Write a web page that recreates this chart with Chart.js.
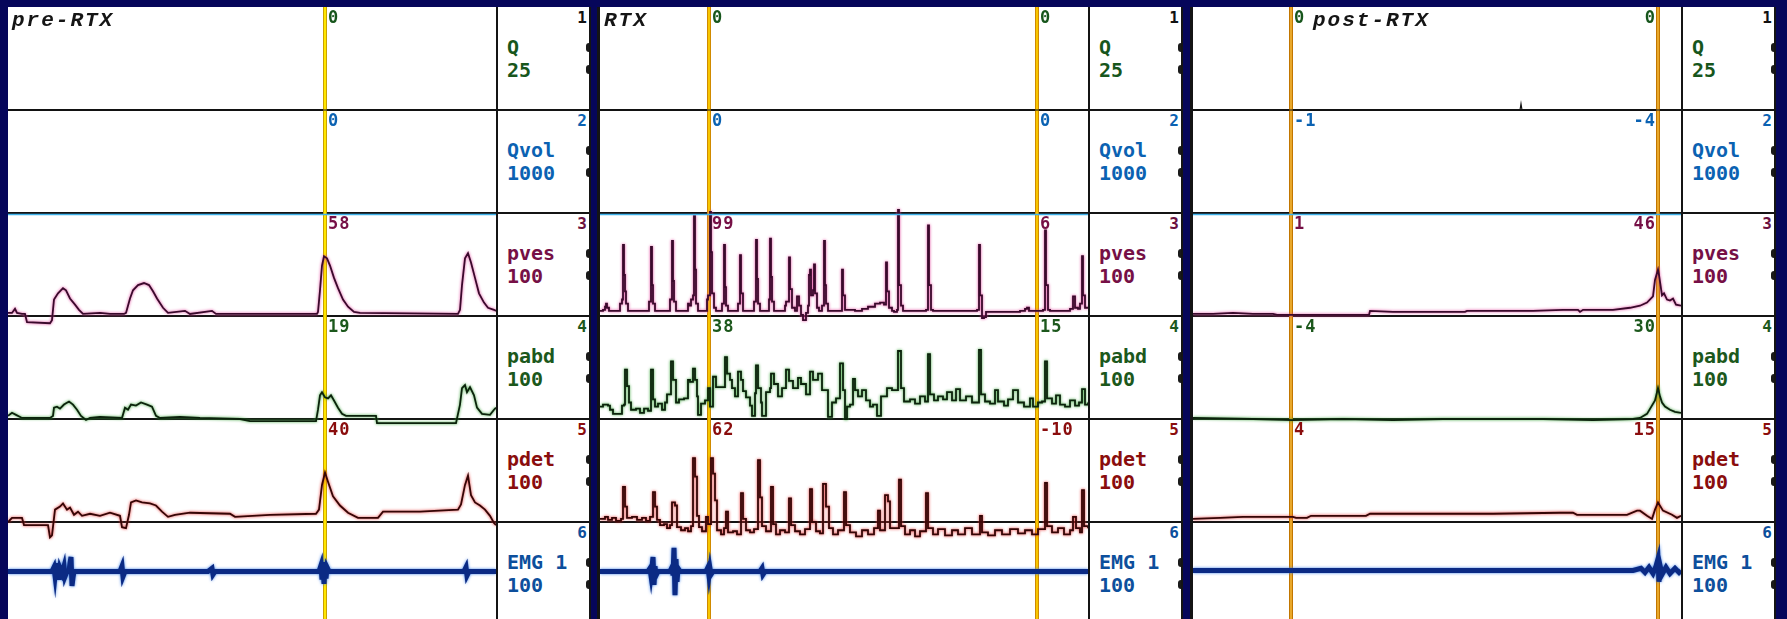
<!DOCTYPE html>
<html>
<head>
<meta charset="utf-8">
<title>Urodynamics pre-RTX / RTX / post-RTX</title>
<script src="https://cdn.jsdelivr.net/npm/chart.js@4.4.1/dist/chart.umd.min.js"></script>
<style>
  html, body { margin: 0; padding: 0; }
  body { position: relative; width: 1787px; height: 619px; overflow: hidden; background: #06065a; }
  .box { position: absolute; box-sizing: border-box; background: #fff; }
  .rule { position: absolute; background: #141414; }
  .mono { position: absolute; font-family: "DejaVu Sans Mono", monospace; font-weight: bold; white-space: pre; z-index: 3; }
  .title { position: absolute; font-family: "Liberation Mono", monospace; font-style: italic; font-weight: bold;
           font-size: 21px; line-height: 21px; letter-spacing: 2px; color: #151515; white-space: pre; z-index: 3; }
  .curl { position: absolute; width: 3px; height: 9px; background: #1a1a1a; border-radius: 4px 0 0 4px; z-index: 3; }
  canvas { position: absolute; z-index: 2; }
</style>
</head>
<body>
<script>
/* time axis: samples 0..488 per recording, values in % of channel full scale */
const T_END = 488;
const channels = ['Q', 'Qvol', 'pves', 'pabd', 'pdet', 'EMG 1'];
const fullScales = ['25', '1000', '100', '100', '100', '100'];

// ---- pre-RTX
const preQ = [[0, 0], [488, 0]];
const preQvol = [[0, -1.5], [488, -1.5]];
const prePves = [[0,3],[4,3],[7,7],[9,3],[14,2],[17,2],[19,-6],[42,-7],[44,-4],[46,16],[50,22],[55,27],[58,25],[62,17],[67,11],[71,6],[75,2],
  [92,3],[102,2],[116,2],[118,3],[122,17],[125,25],[130,30],[136,32],[141,30],[145,24],[149,17],[155,8],[160,3],[177,5],[182,2],[204,5],[208,2],
  [309,2],[310,4],[312,25],[314,49],[316,58],[319,56],[322,49],[326,37],[330,27],[335,16],[340,9],[346,4],[352,3],
  [450,2],[452,6],[454,30],[457,56],[460,61],[463,52],[467,37],[471,22],[476,13],[480,8],[486,6],[488,5]];
const prePabd = [[0,3],[4,6],[8,4],[14,1],[42,1],[45,3],[46,11],[49,12],[52,10],[56,14],[61,17],[65,14],[69,9],[73,3],[78,-1],[82,1],
  [92,2],[114,1],[117,11],[120,9],[123,14],[128,13],[133,16],[139,14],[144,12],[148,3],[152,1],[172,2],[192,1],[232,0],[242,-2],[308,-2],
  [310,9],[312,23],[314,26],[317,21],[320,20],[323,23],[326,18],[330,11],[334,5],[338,3],[368,3],[369,-4],[448,-4],
  [452,14],[454,30],[457,33],[459,26],[462,31],[466,23],[469,11],[474,5],[482,4],[486,9],[488,11]];
const prePdet = [[0,0],[4,4],[14,4],[16,-3],[40,-3],[42,-15],[44,-13],[47,12],[52,15],[55,18],[59,12],[62,14],[66,7],[70,10],[74,6],[82,8],
  [92,6],[102,9],[112,6],[114,-5],[118,-6],[121,7],[123,19],[128,21],[134,19],[142,18],[148,16],[154,10],[160,5],[167,7],[182,9],[222,8],
  [227,5],[262,7],[308,8],[311,12],[314,36],[317,48],[320,39],[325,25],[332,16],[340,9],[350,4],[370,4],[375,10],[412,10],[450,12],
  [453,17],[457,36],[460,45],[463,26],[467,19],[472,16],[477,12],[482,6],[486,-1],[488,-3]];
const preEmg = [[0,52],[44,52],[46,56],[47,48],[48,58],[49,45],[50,60],[51,44],[52,55],[54,50],[56,57],[57,47],[59,52],[61,52],[62,60],
  [63,66],[64,38],[65,46],[66,52],[70,52],[112,52],[114,57],[115,47],[117,52],[200,52],[204,55],[205,49],[207,52],[311,52],[313,58],
  [314,44],[315,61],[316,40],[317,60],[318,45],[319,56],[321,52],[456,52],[458,56],[459,48],[461,52],[488,52]];
const preCursors = [317];
const preCursorLabels = [['0', '0', '58', '19', '40']];

// ---- RTX
const rtxQ = [[0, 0], [488, 0]];
const rtxQvol = [[0, -1.5], [488, -1.5]];
const rtxPves = [[0,5],[3,6],[5,9],[6,12],[7,8],[9,5],[18,5],[20,12],[22,16],[23,69],[24,40],[25,24],[26,12],[28,5],
  [47,5],[49,14],[51,67],[52,30],[53,12],[55,5],[68,5],[70,16],[72,73],[73,34],[74,14],[76,5],
  [86,5],[88,12],[89,10],[91,16],[93,20],[94,97],[95,45],[96,12],[98,5],[105,5],[107,16],[108,20],[110,101],[111,62],[112,22],[114,8],[116,5],
  [120,5],[122,12],[124,69],[125,28],[126,10],[128,5],[136,5],[138,12],[140,59],[141,22],[143,5],
  [152,5],[154,14],[156,74],[157,36],[158,12],[160,5],[167,5],[169,16],[170,75],[171,38],[172,14],[174,5],
  [183,5],[185,10],[186,14],[189,57],[190,26],[192,8],[195,5],[197,19],[199,10],[201,1],[203,-4],[206,3],[208,10],[209,40],[210,45],
  [211,20],[213,25],[214,50],[215,22],[217,8],[219,5],[222,10],[224,73],[225,30],[226,12],[228,5],
  [240,5],[242,45],[243,20],[245,6],[255,5],[262,7],[268,9],[275,12],[280,13],[284,11],[286,52],[287,24],[289,8],[292,5],[294,4],[297,6],
  [298,103],[299,30],[301,10],[303,5],[320,5],[326,6],[328,88],[329,30],[331,6],[333,5],
  [370,5],[377,6],[379,69],[380,20],[382,-2],[384,-1],[386,4],[420,5],[425,7],[427,8],[429,5],[440,5],[443,6],[445,83],[446,30],[448,6],[450,5],
  [462,5],[466,5],[470,7],[473,19],[475,8],[478,7],[480,12],[482,58],[483,20],[485,8],[488,8]];
const rtxPabd = [[0,12],[3,14],[8,13],[10,9],[13,5],[20,5],[22,13],[24,14],[25,48],[27,32],[29,16],[31,9],[36,10],[40,6],[44,10],[48,8],
  [51,48],[53,19],[55,12],[58,15],[62,9],[65,16],[67,24],[71,56],[73,38],[76,16],[79,19],[84,20],[88,38],[90,36],[93,49],[95,38],[97,22],
  [98,4],[101,15],[105,18],[108,30],[110,12],[113,41],[116,31],[121,31],[125,60],[127,44],[130,38],[132,30],[135,22],[138,46],[141,38],
  [143,27],[146,21],[150,13],[152,3],[155,25],[156,52],[158,30],[161,16],[162,3],[166,26],[170,30],[171,44],[174,34],[178,22],[182,30],
  [186,48],[189,37],[193,30],[198,40],[201,34],[206,24],[210,46],[213,38],[218,44],[222,28],[228,2],[232,16],[236,20],[240,54],[243,28],
  [245,0],[247,12],[250,14],[253,39],[255,28],[258,22],[262,28],[266,18],[270,12],[273,14],[277,3],[281,22],[287,30],[292,28],[298,66],
  [301,30],[304,17],[310,19],[315,15],[320,22],[325,17],[328,63],[330,24],[334,18],[338,22],[343,19],[347,26],[352,18],[356,29],[360,18],
  [366,22],[372,16],[379,67],[381,24],[385,17],[390,15],[395,28],[398,17],[404,13],[408,19],[413,28],[418,16],[424,12],[430,20],[433,12],
  [438,16],[442,17],[445,56],[447,20],[452,15],[456,23],[460,14],[465,12],[470,18],[475,13],[479,16],[482,29],[485,14],[488,16]];
const rtxPdet = [[0,3],[5,5],[8,2],[12,4],[16,1],[21,3],[23,34],[25,15],[27,4],[32,5],[37,2],[42,4],[46,1],[50,5],[53,29],[55,15],[57,2],
  [60,-3],[64,-2],[67,-6],[70,-3],[72,19],[75,16],[77,-5],[81,-8],[85,-6],[88,-9],[91,-4],[93,62],[95,44],[97,6],[99,-5],[102,-9],[106,5],
  [108,-2],[111,62],[113,47],[115,21],[117,-8],[121,-12],[124,-6],[126,10],[128,-10],[133,-9],[137,-12],[141,28],[143,3],[146,-8],
  [150,-10],[154,-7],[158,60],[160,24],[162,-4],[166,-9],[171,34],[173,-2],[176,-12],[180,-8],[185,-10],[189,23],[191,-3],[195,-9],
  [200,-12],[205,-7],[210,32],[212,0],[216,-9],[220,-11],[223,37],[226,15],[229,-6],[233,-12],[238,-8],[244,29],[246,-3],[250,-10],
  [256,-14],[262,-8],[268,-12],[274,-6],[278,11],[280,-8],[285,26],[288,20],[290,-6],[299,41],[301,-4],[305,-12],[310,-8],[315,-14],
  [320,-9],[326,28],[328,-6],[333,-12],[338,-7],[345,-13],[352,-8],[358,-12],[365,-6],[372,-12],[380,6],[382,-10],[388,-13],[395,-8],
  [402,-12],[410,-7],[418,-11],[425,-8],[432,-12],[438,-7],[445,38],[447,-4],[452,-10],[458,-6],[464,-12],[470,-8],[473,5],[476,-6],
  [480,-10],[482,31],[484,-4],[488,-6]];
const rtxEmg = [[0,52],[48,52],[50,55],[51,48],[52,56],[53,66],[54,39],[55,57],[56,48],[58,52],[70,52],[72,56],[73,48],[74,75],[75,29],
  [76,64],[77,42],[78,55],[80,52],[106,52],[108,56],[109,48],[110,55],[111,49],[113,52],[160,52],[162,55],[163,49],[165,52],[488,52]];
const rtxCursors = [109, 437];
const rtxCursorLabels = [['0', '0', '99', '38', '62'], ['0', '0', '6', '15', '-10']];

// ---- post-RTX
const postQ = [[0,0],[327,0],[328,6],[329,0],[488,0]];
const postQvol = [[0, -1.5], [488, -1.5]];
const postPves = [[0,2],[20,2],[40,3],[60,2],[80,2],[84,1],[120,1],[150,1],[176,1],[177,5],[200,4],[230,4],[260,4],[272,4],[274,5],[300,5],
  [340,5],[370,6],[385,6],[387,4],[390,6],[420,6],[437,8],[447,10],[454,13],[460,19],[462,35],[465,45],[466,40],[469,20],[471,22],
  [474,16],[477,15],[480,17],[483,11],[488,10]];
const postPabd = [[0,1],[60,0],[100,-1],[150,0],[200,-1],[250,0],[300,0],[350,0],[400,-1],[440,0],[447,1],[454,5],[462,18],[465,30],
  [467,22],[469,16],[472,12],[477,9],[482,7],[488,6]];
const postPdet = [[0,3],[27,4],[50,5],[77,5],[100,5],[103,4],[114,4],[118,6],[173,6],[177,8],[220,8],[300,8],[367,9],[380,9],[384,7],
  [434,7],[444,11],[447,11],[454,6],[459,3],[462,12],[465,19],[470,11],[479,7],[484,4],[488,6]];
const postEmg = [[0,53],[440,53],[448,55],[452,51],[456,56],[460,50],[463,57],[465,64],[466,42],[467,58],[469,49],[473,56],[477,50],
  [482,55],[486,51],[488,53]];
const postCursors = [98, 465];
const postCursorLabels = [['0', '-1', '1', '-4', '4'], ['0', '-4', '46', '30', '15']];

// ---- layout / style
const TOP = 7, ROW_H = 103, PLOT_H = ROW_H * 6;
const PLOT_LEFT = [8, 600, 1193];
const PANEL_W = 583;
const chColor = ['#17561c', '#0b62b2', '#761046', '#1c581c', '#8a0d0d', '#0d4f9c'];
const numColor = ['#111', '#0b62b2', '#6a1040', '#1c581c', '#8a0d0d', '#0d4f9c'];
const traceStyle = [
  { color: '#111', width: 1.2 },
  { color: '#3fb2ea', width: 1.6 },
  { color: '#3a0a2c', width: 1.8, glow: '#e0409a' },
  { color: '#0c220c', width: 1.8, glow: '#34a034' },
  { color: '#350606', width: 1.8, glow: '#e43030' },
  { color: '#0b2a84', width: 5, glow: '#3c7fe6' }
];
const cursorStyle = [
  { edge: '#c9a200', core: '#ffe600' },
  { edge: '#d08a00', core: '#f7c600' },
  { edge: '#c27600', core: '#e9a82a' }
];

const panels = [
  { title: 'pre-RTX', titleAt: 4, stepped: false, series: [preQ, preQvol, prePves, prePabd, prePdet, preEmg],
    cursors: preCursors, labels: preCursorLabels, side: ['r'] },
  { title: 'RTX', titleAt: 4, stepped: true, series: [rtxQ, rtxQvol, rtxPves, rtxPabd, rtxPdet, rtxEmg],
    cursors: rtxCursors, labels: rtxCursorLabels, side: ['r', 'r'] },
  { title: 'post-RTX', titleAt: 120, stepped: false, series: [postQ, postQvol, postPves, postPabd, postPdet, postEmg],
    cursors: postCursors, labels: postCursorLabels, side: ['r', 'l'] }
];

// cursor lines, drawn under the traces
const cursorPlugin = {
  id: 'cursors',
  beforeDatasetsDraw(chart, args, opts) {
    const { ctx, chartArea, scales: { x } } = chart;
    (opts.times || []).forEach(t => {
      const px = Math.round(x.getPixelForValue(t));
      ctx.save();
      ctx.fillStyle = opts.edge;
      ctx.fillRect(px - 2, chartArea.top, 4, chartArea.bottom - chartArea.top);
      ctx.fillStyle = opts.core;
      ctx.fillRect(px - 1, chartArea.top, 2, chartArea.bottom - chartArea.top);
      ctx.restore();
    });
  }
};

// coloured fringe round the printed traces
const glowPlugin = {
  id: 'glow',
  beforeDatasetDraw(chart, args) {
    const ds = chart.data.datasets[args.index];
    chart.ctx.save();
    if (ds.glow) {
      chart.ctx.shadowColor = ds.glow;
      chart.ctx.shadowBlur = 3;
    }
  },
  afterDatasetDraw(chart) { chart.ctx.restore(); }
};

function add(tag, cls, css, text) {
  const e = document.createElement(tag);
  if (cls) e.className = cls;
  e.style.cssText = css;
  if (text != null) e.textContent = text;
  document.body.appendChild(e);
  return e;
}

panels.forEach((p, i) => {
  const L = PLOT_LEFT[i];
  const bl = i ? 3 : 0;
  add('div', 'box', `left:${L - bl}px;top:${TOP}px;width:${PANEL_W + bl}px;height:${PLOT_H}px;` +
    `border-left:${bl}px solid #141414;border-right:2px solid #141414;`);
  add('div', 'rule', `left:${L + T_END}px;top:${TOP}px;width:2px;height:${PLOT_H}px;z-index:1`);
  for (let k = 1; k < 6; k++) {
    add('div', 'rule', `left:${L}px;top:${TOP + k * ROW_H - 1}px;width:${PANEL_W - 2}px;height:2px;z-index:1`);
  }

  channels.forEach((name, k) => {
    const top = TOP + k * ROW_H;
    add('div', 'mono', `left:${L + 499}px;top:${top + 29}px;font-size:20px;line-height:23px;color:${chColor[k]}`,
      name + '\n' + fullScales[k]);
    add('div', 'mono', `left:${L + 490}px;width:89px;text-align:right;top:${top + 3}px;font-size:16px;line-height:16px;color:${numColor[k]}`,
      String(k + 1));
    add('div', 'curl', `left:${L + 578}px;top:${top + 36}px`);
    add('div', 'curl', `left:${L + 578}px;top:${top + 58}px`);
  });
  add('div', 'title', `left:${L + p.titleAt}px;top:10px`, p.title);

  const cv = add('canvas', null, `left:${L}px;top:${TOP}px;width:${T_END}px;height:${PLOT_H}px`);
  cv.width = T_END;
  cv.height = PLOT_H;

  const scales = { x: { type: 'linear', min: 0, max: T_END, display: false } };
  channels.forEach((c, k) => {
    scales['y' + k] = { display: false, min: -(5 - k) * 100, max: (k + 1) * 100 };
  });

  const chart = new Chart(cv, {
    type: 'line',
    data: {
      datasets: p.series.map((d, k) => ({
        label: channels[k], data: d, yAxisID: 'y' + k,
        borderColor: traceStyle[k].color, borderWidth: traceStyle[k].width, glow: traceStyle[k].glow,
        stepped: p.stepped && k >= 2 && k <= 4 ? 'before' : false,
        pointRadius: 0, tension: 0, fill: false
      }))
    },
    options: {
      responsive: false, animation: false, events: [],
      layout: { padding: 0 },
      plugins: {
        legend: { display: false }, tooltip: { enabled: false },
        cursors: { times: p.cursors, edge: cursorStyle[i].edge, core: cursorStyle[i].core }
      },
      scales
    },
    plugins: [cursorPlugin, glowPlugin]
  });

  // cursor read-outs
  p.cursors.forEach((t, j) => {
    const cx = L + chart.scales.x.getPixelForValue(t);
    p.labels[j].forEach((v, k) => {
      const pos = p.side[j] === 'l' ? `left:${cx - 2}px;transform:translateX(-100%)` : `left:${cx + 3}px`;
      add('div', 'mono', `${pos};top:${TOP + k * ROW_H + 2}px;font-size:17px;line-height:16px;letter-spacing:1px;color:${chColor[k]}`, v);
    });
  });
});
</script>
</body>
</html>
